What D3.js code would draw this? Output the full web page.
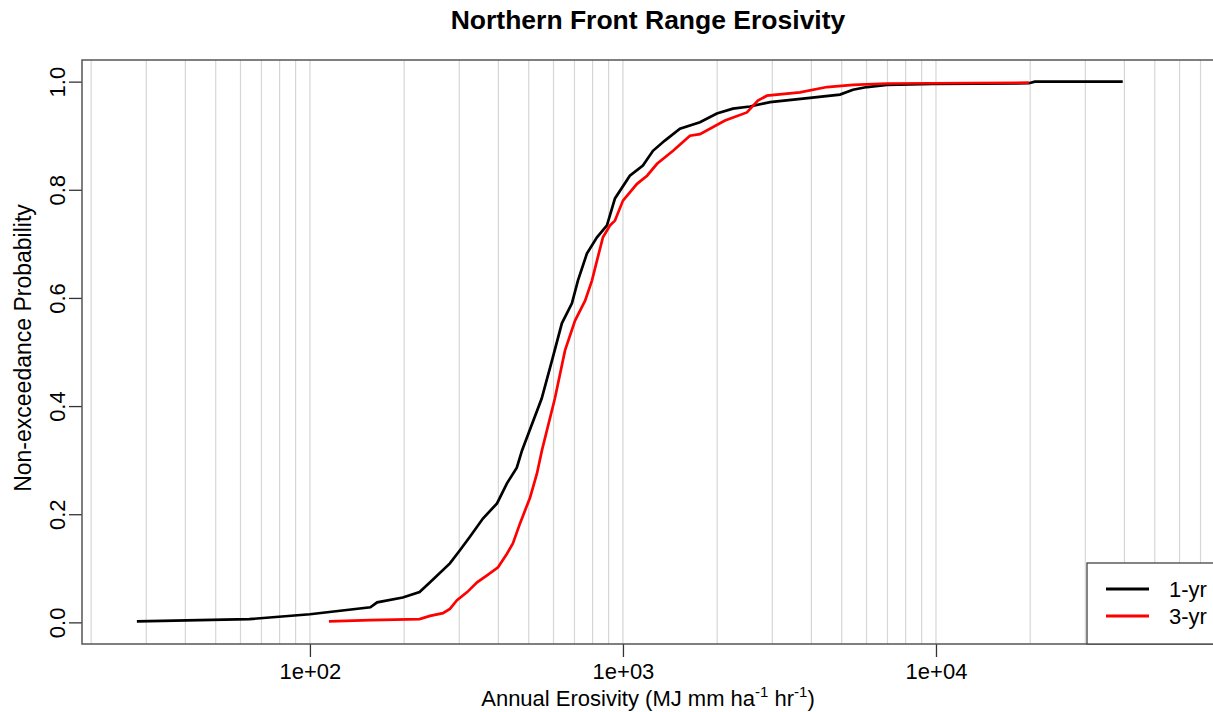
<!DOCTYPE html>
<html>
<head>
<meta charset="utf-8">
<script src="https://cdn.jsdelivr.net/npm/d3@7"></script>
<style>
  body { margin: 0; background: #fff; }
  text { font-family: "Liberation Sans", Arial, sans-serif; fill: #000; }
</style>
</head>
<body>
<div id="root"></div>
<script>
'use strict';

// 1-yr series: annual erosivity vs non-exceedance probability
var oneYrX = [28, 64, 100, 156, 164, 198, 224, 242, 280, 301, 324, 357, 396, 426, 458, 476,
  550, 597, 638, 687, 718, 767, 826, 889, 943, 1052, 1158, 1247, 1361, 1521, 1762, 1995,
  2245, 2545, 2951, 3957, 4933, 5430, 6020, 6970, 9775, 19800, 20700, 39500];
var oneYrP = [0.002, 0.006, 0.015, 0.028, 0.037, 0.046, 0.056, 0.074, 0.109, 0.133, 0.158, 0.192, 0.220, 0.257, 0.286, 0.318,
  0.414, 0.490, 0.553, 0.590, 0.632, 0.682, 0.712, 0.734, 0.784, 0.826, 0.845, 0.872, 0.891, 0.913, 0.925, 0.941,
  0.950, 0.954, 0.962, 0.970, 0.976, 0.985, 0.990, 0.994, 0.996, 0.997, 1.0, 1.0];

// 3-yr series
var threeYrX = [115, 156, 224, 242, 266, 280, 295, 318, 342, 368, 399, 426, 445, 469, 505, 531, 551,
  606, 653, 703, 757, 796, 826, 863, 909, 943, 1000, 1109, 1194, 1285, 1446, 1637, 1762,
  2118, 2489, 2698, 2884, 3674, 4484, 5430, 6970, 19800];
var threeYrP = [0.002, 0.004, 0.006, 0.012, 0.017, 0.025, 0.041, 0.056, 0.074, 0.087, 0.102, 0.127, 0.146, 0.183, 0.231, 0.275, 0.318,
  0.414, 0.503, 0.558, 0.595, 0.632, 0.669, 0.712, 0.734, 0.743, 0.780, 0.811, 0.826, 0.848, 0.872, 0.900, 0.903,
  0.928, 0.943, 0.965, 0.974, 0.980, 0.990, 0.994, 0.9965, 0.998];

var seriesNames = ['1-yr', '3-yr'];
var seriesColors = ['#000000', '#ff0000'];
var xTicks = [1e2, 1e3, 1e4];
var yTicks = [0, 0.2, 0.4, 0.6, 0.8, 1.0];

var W = 1213, H = 712;
var pLeft = 82, pRight = 1214, pTop = 60, pBottom = 644;
var FONT = '"Liberation Sans", Arial, sans-serif';

var svg = d3.select('#root').append('svg')
  .attr('width', W).attr('height', H);

svg.append('rect').attr('width', W).attr('height', H).attr('fill', '#fff');

var x = d3.scaleLog().domain([18.7, 77300]).range([pLeft, pRight]);
var y = d3.scaleLinear().domain([-0.04, 1.04]).range([pBottom, pTop]);

// vertical grid at every 1..9 x 10^k
var grid = [];
for (var k = 1; k <= 4; k++) {
  for (var m = 1; m <= 9; m++) {
    var v = m * Math.pow(10, k);
    if (v > x.domain()[0] && v < x.domain()[1]) grid.push(v);
  }
}
svg.append('g').selectAll('line').data(grid).enter().append('line')
  .attr('x1', function (d) { return x(d); })
  .attr('x2', function (d) { return x(d); })
  .attr('y1', pTop).attr('y2', pBottom)
  .attr('stroke', '#d6d6d6').attr('stroke-width', 1.2);

svg.append('clipPath').attr('id', 'clip').append('rect')
  .attr('x', pLeft).attr('y', pTop).attr('width', pRight - pLeft).attr('height', pBottom - pTop);

var line = d3.line()
  .x(function (d) { return x(d[0]); })
  .y(function (d) { return y(d[1]); });

var series = [d3.zip(oneYrX, oneYrP), d3.zip(threeYrX, threeYrP)];

svg.append('g').attr('clip-path', 'url(#clip)')
  .selectAll('path').data(series).enter().append('path')
  .attr('d', line)
  .attr('fill', 'none')
  .attr('stroke', function (d, i) { return seriesColors[i]; })
  .attr('stroke-width', 2.7);

// x axis
var xAxis = d3.axisBottom(x).tickValues(xTicks).tickSize(13).tickPadding(6)
  .tickFormat(function (d) { return '1e+0' + Math.round(Math.log10(d)); });
var gx = svg.append('g').attr('transform', 'translate(0,' + pBottom + ')').call(xAxis);
gx.select('.domain').remove();
gx.selectAll('line').attr('stroke', '#333').attr('stroke-width', 1.3);
gx.selectAll('text').style('font-size', '22px').attr('fill', '#000').style('font-family', FONT);

// y axis, labels parallel to the axis
var yAxis = d3.axisLeft(y).tickValues(yTicks).tickSize(13)
  .tickFormat(d3.format('.1f'));
var gy = svg.append('g').attr('transform', 'translate(' + pLeft + ',0)').call(yAxis);
gy.select('.domain').remove();
gy.selectAll('line').attr('stroke', '#333').attr('stroke-width', 1.3);
gy.selectAll('text')
  .attr('x', null)
  .attr('text-anchor', 'middle')
  .attr('transform', 'translate(-25,0) rotate(-90)')
  .attr('dy', '0.35em')
  .style('font-size', '22px').attr('fill', '#000').style('font-family', FONT);

// plot box
svg.append('rect')
  .attr('x', pLeft).attr('y', pTop)
  .attr('width', pRight - pLeft).attr('height', pBottom - pTop)
  .attr('fill', 'none').attr('stroke', '#555').attr('stroke-width', 1.5);

// title
svg.append('text')
  .attr('x', (pLeft + pRight) / 2).attr('y', 29)
  .attr('text-anchor', 'middle')
  .style('font-size', '26.5px').style('font-weight', 'bold')
  .text('Northern Front Range Erosivity');

// axis labels
var xl = svg.append('text')
  .attr('x', (pLeft + pRight) / 2).attr('y', 706)
  .attr('text-anchor', 'middle')
  .style('font-size', '22px');
xl.append('tspan').text('Annual Erosivity (MJ mm ha');
xl.append('tspan').attr('dy', -9).style('font-size', '15px').text('-1');
xl.append('tspan').attr('dy', 9).text(' hr');
xl.append('tspan').attr('dy', -9).style('font-size', '15px').text('-1');
xl.append('tspan').attr('dy', 9).text(')');

svg.append('text')
  .attr('transform', 'translate(31,' + 348 + ') rotate(-90)')
  .attr('text-anchor', 'middle')
  .style('font-size', '23px')
  .text('Non-exceedance Probability');

// legend
var lg = svg.append('g');
lg.append('rect')
  .attr('x', 1087).attr('y', 563)
  .attr('width', pRight - 1087).attr('height', pBottom - 563)
  .attr('fill', '#fff').attr('stroke', '#444').attr('stroke-width', 1.3);
var items = lg.selectAll('g.item').data(seriesNames).enter().append('g')
  .attr('class', 'item')
  .attr('transform', function (d, i) { return 'translate(0,' + (589 + i * 27) + ')'; });
items.append('line')
  .attr('x1', 1106).attr('x2', 1149)
  .attr('stroke', function (d, i) { return seriesColors[i]; })
  .attr('stroke-width', 3);
items.append('text')
  .attr('x', 1169).attr('dy', '0.35em')
  .style('font-size', '22px')
  .text(function (d) { return d; });
</script>
</body>
</html>
